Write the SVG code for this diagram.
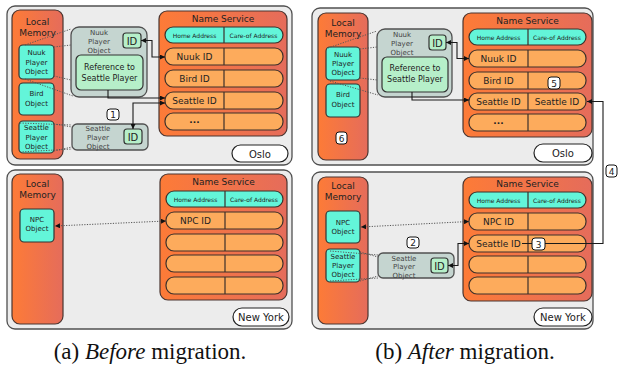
<svg xmlns="http://www.w3.org/2000/svg" width="618" height="369" viewBox="0 0 618 369">
<defs>
<linearGradient id="og" x1="0" y1="0" x2="1" y2="0">
<stop offset="0" stop-color="#fd7b37"/>
<stop offset="1" stop-color="#e56c5b"/>
</linearGradient>
<marker id="ah" viewBox="0 0 6 6" refX="6" refY="3" markerWidth="5" markerHeight="5" orient="auto-start-reverse" markerUnits="userSpaceOnUse">
<path d="M0,0 L6,3 L0,6 z" fill="#111"/>
</marker>
<style>
.panel{fill:#ececec;stroke:#505050;stroke-width:1.3}
.mem{fill:url(#og);stroke:#4a3530;stroke-width:1.2}
.row{fill:#fdab5c;stroke:#3c302a;stroke-width:1.2}
.hdr{fill:#63f5d9;stroke:#3c302a;stroke-width:1.2}
.div{stroke:#3c302a;stroke-width:1.2}
.cyan{fill:#63f5d9;stroke:#333;stroke-width:1.2}
.gray{fill:#c5d5d0;stroke:#505050;stroke-width:1.3}
.green{fill:#b6efc9;stroke:#333;stroke-width:1.2}
.lbl{fill:#fff;stroke:#111;stroke-width:1}
.pill{fill:#fff;stroke:#222;stroke-width:1.2}
.t{font-family:"DejaVu Sans",sans-serif;fill:#222;text-anchor:middle}
.t9{font-size:9px}
.t8{font-size:8px}
.t7{font-size:7px}
.t6{font-size:6px}
.t10{font-size:10px}
.tg{fill:#444}
.con{fill:none;stroke:#1a1a1a;stroke-width:1.1}
.dot{fill:none;stroke:#555;stroke-width:1;stroke-dasharray:1.2 1.4}
.cap{font-family:"Liberation Serif",serif;font-size:23px;fill:#111;text-anchor:middle}
</style>
</defs>

<!-- Panels -->
<g id="panel-a-oslo"><rect class="panel" x="7" y="6" width="285" height="159" rx="8"/></g>
<g id="panel-a-ny"><rect class="panel" x="7" y="170" width="285" height="159" rx="8"/></g>
<g id="panel-b-oslo"><rect class="panel" x="312" y="8" width="281" height="157" rx="8"/></g>
<g id="panel-b-ny"><rect class="panel" x="312" y="172" width="281" height="157" rx="8"/></g>

<!-- (a) Oslo -->
<g id="a-oslo-mem">
<rect class="mem" x="12" y="10" width="51" height="149" rx="8"/>
<text class="t t9" x="37.5" y="25">Local</text>
<text class="t t9" x="37.5" y="36">Memory</text>
</g>
<g id="a-oslo-nuuk-obj">
<rect class="cyan" x="19" y="45" width="35" height="34" rx="4"/>
<text class="t t7" x="36.5" y="55">Nuuk</text>
<text class="t t7" x="36.5" y="64.5">Player</text>
<text class="t t7" x="36.5" y="74">Object</text>
</g>
<g id="a-oslo-bird-obj">
<rect class="cyan" x="19" y="83" width="35" height="32" rx="4"/>
<text class="t t7" x="36.5" y="96">Bird</text>
<text class="t t7" x="36.5" y="106">Object</text>
</g>
<g id="a-oslo-seattle-obj">
<rect class="cyan" x="19" y="121" width="35" height="32" rx="4"/>
<text class="t t7" x="36.5" y="130">Seattle</text>
<text class="t t7" x="36.5" y="139.5">Player</text>
<text class="t t7" x="36.5" y="149">Object</text>
</g>
<g id="a-oslo-nuuk-detail">
<rect class="gray" x="71" y="27" width="76" height="70" rx="8"/>
<text class="t t7 tg" x="99" y="35">Nuuk</text>
<text class="t t7 tg" x="99" y="44">Player</text>
<text class="t t7 tg" x="99" y="53">Object</text>
<rect class="green" x="123" y="33" width="18" height="15" rx="3"/>
<text class="t t10" x="132" y="44.5">ID</text>
<rect class="green" x="76" y="55" width="67" height="35" rx="5"/>
<text class="t t8" x="109.5" y="70">Reference to</text>
<text class="t t8" x="109.5" y="81">Seattle Player</text>
</g>
<g id="a-oslo-seattle-detail">
<rect class="gray" x="72" y="124" width="76" height="26" rx="5"/>
<text class="t t7 tg" x="98" y="131">Seattle</text>
<text class="t t7 tg" x="98" y="140">Player</text>
<text class="t t7 tg" x="98" y="149">Object</text>
<rect class="green" x="124" y="129" width="18" height="15" rx="3"/>
<text class="t t10" x="133" y="140.5">ID</text>
</g>
<g id="a-oslo-ns">
<rect class="mem" x="159" y="11" width="128" height="125" rx="8"/>
<text class="t t9" x="223" y="22">Name Service</text>
<rect class="hdr" x="165" y="27" width="118" height="16" rx="8"/>
<line class="div" x1="224" y1="27" x2="224" y2="43"/>
<text class="t t6" x="194.5" y="37.5">Home Address</text>
<text class="t t6" x="253.5" y="37.5">Care-of Address</text>
<rect class="row" x="165" y="48" width="118" height="17" rx="8"/>
<line class="div" x1="224" y1="48" x2="224" y2="65"/>
<text class="t t9" x="194.5" y="59.5">Nuuk ID</text>
<rect class="row" x="165" y="70" width="118" height="17" rx="8"/>
<line class="div" x1="224" y1="70" x2="224" y2="87"/>
<text class="t t9" x="194.5" y="81.5">Bird ID</text>
<rect class="row" x="165" y="92" width="118" height="17" rx="8"/>
<line class="div" x1="224" y1="92" x2="224" y2="109"/>
<text class="t t9" x="194.5" y="103.5">Seattle ID</text>
<rect class="row" x="165" y="113" width="118" height="17" rx="8"/>
<line class="div" x1="224" y1="113" x2="224" y2="130"/>
<text class="t t9" x="194.5" y="123" font-weight="bold">...</text>
</g>
<g id="a-oslo-label"><rect class="pill" x="232" y="145" width="56" height="17" rx="8.5"/><text class="t t10" x="260" y="157.5">Oslo</text></g>
<g id="a-step1"><rect class="lbl" x="107" y="109" width="12" height="11" rx="3"/><text class="t t9" x="113" y="118">1</text></g>

<!-- (a) New York -->
<g id="a-ny-mem">
<rect class="mem" x="12" y="174" width="51" height="150" rx="8"/>
<text class="t t9" x="37.5" y="187">Local</text>
<text class="t t9" x="37.5" y="198">Memory</text>
</g>
<g id="a-ny-npc-obj">
<rect class="cyan" x="20" y="209" width="34" height="33" rx="4"/>
<text class="t t7" x="37" y="222">NPC</text>
<text class="t t7" x="37" y="231">Object</text>
</g>
<g id="a-ny-ns">
<rect class="mem" x="160" y="174" width="127" height="126" rx="8"/>
<text class="t t9" x="223.5" y="185">Name Service</text>
<rect class="hdr" x="166" y="191" width="117" height="16" rx="8"/>
<line class="div" x1="225" y1="191" x2="225" y2="207"/>
<text class="t t6" x="195.5" y="201.5">Home Address</text>
<text class="t t6" x="254" y="201.5">Care-of Address</text>
<rect class="row" x="166" y="212" width="117" height="17" rx="8"/>
<line class="div" x1="225" y1="212" x2="225" y2="229"/>
<text class="t t9" x="195.5" y="223.5">NPC ID</text>
<rect class="row" x="166" y="234" width="117" height="17" rx="8"/>
<line class="div" x1="225" y1="234" x2="225" y2="251"/>
<rect class="row" x="166" y="255" width="117" height="17" rx="8"/>
<line class="div" x1="225" y1="255" x2="225" y2="272"/>
<rect class="row" x="166" y="277" width="117" height="17" rx="8"/>
<line class="div" x1="225" y1="277" x2="225" y2="294"/>
</g>
<g id="a-ny-label"><rect class="pill" x="233" y="308" width="56" height="18" rx="9"/><text class="t t10" x="261" y="321">New York</text></g>

<!-- (b) Oslo -->
<g id="b-oslo-mem">
<rect class="mem" x="318" y="13" width="50" height="147" rx="8"/>
<text class="t t9" x="343" y="26">Local</text>
<text class="t t9" x="343" y="37">Memory</text>
</g>
<g id="b-oslo-nuuk-obj">
<rect class="cyan" x="326" y="47" width="34" height="33" rx="4"/>
<text class="t t7" x="343" y="57">Nuuk</text>
<text class="t t7" x="343" y="66">Player</text>
<text class="t t7" x="343" y="75">Object</text>
</g>
<g id="b-oslo-bird-obj">
<rect class="cyan" x="326" y="84" width="34" height="33" rx="4"/>
<text class="t t7" x="343" y="97">Bird</text>
<text class="t t7" x="343" y="107">Object</text>
</g>
<g id="b-step6"><rect class="lbl" x="336" y="132" width="11" height="12" rx="3"/><text class="t t9" x="341.5" y="141.5">6</text></g>
<g id="b-oslo-nuuk-detail">
<rect class="gray" x="377" y="29" width="75" height="68" rx="8"/>
<text class="t t7 tg" x="402" y="37">Nuuk</text>
<text class="t t7 tg" x="402" y="46">Player</text>
<text class="t t7 tg" x="402" y="55">Object</text>
<rect class="green" x="429" y="35" width="17" height="15" rx="3"/>
<text class="t t10" x="437.5" y="46.5">ID</text>
<rect class="green" x="382" y="57" width="66" height="35" rx="5"/>
<text class="t t8" x="415" y="71">Reference to</text>
<text class="t t8" x="415" y="82">Seattle Player</text>
</g>
<g id="b-oslo-ns">
<rect class="mem" x="463" y="13" width="129" height="124" rx="8"/>
<text class="t t9" x="527.5" y="24">Name Service</text>
<rect class="hdr" x="469" y="29" width="117" height="16" rx="8"/>
<line class="div" x1="528" y1="29" x2="528" y2="45"/>
<text class="t t6" x="498.5" y="39.5">Home Address</text>
<text class="t t6" x="557" y="39.5">Care-of Address</text>
<rect class="row" x="469" y="50" width="117" height="17" rx="8"/>
<line class="div" x1="528" y1="50" x2="528" y2="67"/>
<text class="t t9" x="498.5" y="61.5">Nuuk ID</text>
<rect class="row" x="469" y="72" width="117" height="17" rx="8"/>
<line class="div" x1="528" y1="72" x2="528" y2="89"/>
<text class="t t9" x="498.5" y="83.5">Bird ID</text>
<rect class="row" x="469" y="93" width="117" height="17" rx="8"/>
<line class="div" x1="528" y1="93" x2="528" y2="110"/>
<text class="t t9" x="498.5" y="104.5">Seattle ID</text>
<text class="t t9" x="557" y="104.5">Seattle ID</text>
<rect class="row" x="469" y="114" width="117" height="17" rx="8"/>
<line class="div" x1="528" y1="114" x2="528" y2="131"/>
<text class="t t9" x="498.5" y="124" font-weight="bold">...</text>
</g>
<g id="b-step5"><rect class="lbl" x="548" y="77" width="12" height="12" rx="3"/><text class="t t9" x="554" y="86.5">5</text></g>
<g id="b-oslo-label"><rect class="pill" x="534" y="144" width="58" height="18" rx="9"/><text class="t t10" x="563" y="157">Oslo</text></g>

<!-- (b) New York -->
<g id="b-ny-mem">
<rect class="mem" x="318" y="177" width="50" height="147" rx="8"/>
<text class="t t9" x="343" y="189">Local</text>
<text class="t t9" x="343" y="200">Memory</text>
</g>
<g id="b-ny-npc-obj">
<rect class="cyan" x="326" y="211" width="34" height="32" rx="4"/>
<text class="t t7" x="343" y="224.5">NPC</text>
<text class="t t7" x="343" y="234">Object</text>
</g>
<g id="b-ny-seattle-obj">
<rect class="cyan" x="326" y="249" width="34" height="33" rx="4"/>
<text class="t t7" x="343" y="259">Seattle</text>
<text class="t t7" x="343" y="268">Player</text>
<text class="t t7" x="343" y="277">Object</text>
</g>
<g id="b-ny-seattle-detail">
<rect class="gray" x="378" y="253" width="76" height="25" rx="5"/>
<text class="t t7 tg" x="404" y="260.5">Seattle</text>
<text class="t t7 tg" x="404" y="269">Player</text>
<text class="t t7 tg" x="404" y="277.5">Object</text>
<rect class="green" x="431" y="258" width="17" height="15" rx="3"/>
<text class="t t10" x="439.5" y="269.5">ID</text>
</g>
<g id="b-step2"><rect class="lbl" x="407" y="237" width="12" height="11" rx="3"/><text class="t t9" x="413" y="246">2</text></g>
<g id="b-ny-ns">
<rect class="mem" x="463" y="177" width="129" height="124" rx="8"/>
<text class="t t9" x="527.5" y="187">Name Service</text>
<rect class="hdr" x="469" y="192" width="117" height="16" rx="8"/>
<line class="div" x1="528" y1="192" x2="528" y2="208"/>
<text class="t t6" x="498.5" y="202.5">Home Address</text>
<text class="t t6" x="557" y="202.5">Care-of Address</text>
<rect class="row" x="469" y="213" width="117" height="17" rx="8"/>
<line class="div" x1="528" y1="213" x2="528" y2="230"/>
<text class="t t9" x="498.5" y="224.5">NPC ID</text>
<rect class="row" x="469" y="235" width="117" height="17" rx="8"/>
<line class="div" x1="528" y1="235" x2="528" y2="252"/>
<text class="t t9" x="498.5" y="246.5">Seattle ID</text>
<rect class="row" x="469" y="256" width="117" height="17" rx="8"/>
<line class="div" x1="528" y1="256" x2="528" y2="273"/>
<rect class="row" x="469" y="277" width="117" height="17" rx="8"/>
<line class="div" x1="528" y1="277" x2="528" y2="294"/>
</g>
<g id="b-ny-label"><rect class="pill" x="534" y="308" width="58" height="18" rx="9"/><text class="t t10" x="563" y="321">New York</text></g>

<!-- Connectors -->
<g id="connectors">
<!-- (a) -->
<path class="dot" d="M25,45 L71,29 M54,47 L71,45 M54,76 L71,80 M25,79 L73,96"/>
<path class="dot" d="M20,123 L72,125 M54,124 L72,127 M20,152 L72,149 M54,151 L72,147"/>
<path class="con" d="M141,40.5 H152 V57 H165" marker-start="url(#ah)" marker-end="url(#ah)"/>
<path class="con" d="M108,90 V98 H165" marker-end="url(#ah)"/>
<path class="con" d="M165,103 H133 V129" marker-start="url(#ah)" marker-end="url(#ah)"/>
<path class="dot" d="M166,221 L55,226" marker-start="url(#ah)" marker-end="url(#ah)"/>
<!-- (b) -->
<path class="dot" d="M328,48 L377,31 M360,49 L377,47 M360,78 L377,80 M330,81 L378,95"/>
<path class="dot" d="M330,251 L378,255 M360,252 L378,257 M330,281 L378,278 M360,281 L378,276"/>
<path class="con" d="M446,42.5 H457 V58.5 H469" marker-start="url(#ah)" marker-end="url(#ah)"/>
<path class="con" d="M412,92 V100 H469" marker-end="url(#ah)"/>
<path class="con" d="M469,243.5 H458 V265.5 H448" marker-start="url(#ah)" marker-end="url(#ah)"/>
<path class="dot" d="M469,221.5 L361,227" marker-start="url(#ah)" marker-end="url(#ah)"/>
<path class="con" d="M522,243.5 H603 V101.5 H587" marker-end="url(#ah)"/>
</g>
<g id="b-step3"><rect class="lbl" x="532" y="238" width="13" height="12" rx="3"/><text class="t t9" x="538.5" y="247.5">3</text></g>
<g id="b-step4"><rect class="lbl" x="606" y="165" width="11" height="12" rx="3"/><text class="t t9" x="611.5" y="174.5">4</text></g>

<!-- Captions -->
<text class="cap" x="150" y="359">(a) <tspan font-style="italic">Before</tspan> migration.</text>
<text class="cap" x="465" y="359">(b) <tspan font-style="italic">After</tspan> migration.</text>
</svg>
